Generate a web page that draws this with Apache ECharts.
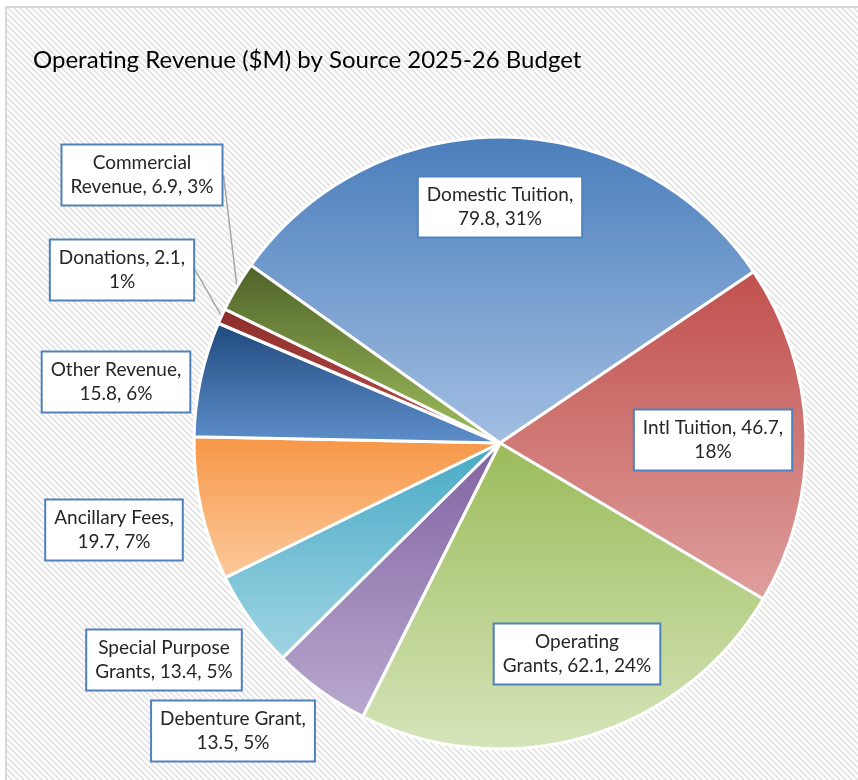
<!DOCTYPE html>
<html>
<head>
<meta charset="utf-8">
<script src="https://cdn.jsdelivr.net/npm/echarts@6/dist/echarts.min.js"></script>
<style>
  html, body { margin: 0; padding: 0; background: #ffffff; }
  #chart { width: 858px; height: 780px; }
</style>
</head>
<body>
<div id="chart"></div>
<script>
// Revenue sources, clockwise from the top of the pie
const sources = [
  'Domestic Tuition', 'Intl Tuition', 'Operating Grants', 'Debenture Grant',
  'Special Purpose Grants', 'Ancillary Fees', 'Other Revenue', 'Donations',
  'Commercial Revenue'
];
const revenue = [79.8, 46.7, 62.1, 13.5, 13.4, 19.7, 15.8, 2.1, 6.9];

// Where each label wraps onto its second line
const wrapAfter = ['comma1', 'comma2', 'Operating', 'comma1', 'Special Purpose', 'comma1', 'comma1', 'comma2', 'Commercial'];

// Slice gradients: darker top, lighter bottom
const sliceTop = ['#4a7ebb', '#c0504d', '#9bbb59', '#7f62a1', '#48a9c5', '#f79646', '#1f497d', '#8b2d2b', '#4f6228'];
const sliceBottom = ['#a3bfe2', '#df9f9d', '#d6e5bb', '#b9a9ce', '#a0d5e4', '#fcca9c', '#5f8fcb', '#c0504d', '#9fbf5c'];

// Label box centres, as offsets from the pie centre
const labelOffset = [
  [0, -236], [213, -3], [77, 211], [-267, 288], [-336, 217],
  [-386, 87], [-384, -61], [-378, -173], [-358, -268]
];
const labelInside = [true, true, true, false, false, false, false, false, false];
const showLeader = [false, false, false, false, false, false, false, true, true];

const CX = 500, CY = 443, R = 306;

// Diagonal hatch used for the chart background
function hatch() {
  const c = document.createElement('canvas');
  c.width = 6; c.height = 6;
  const g = c.getContext('2d');
  g.fillStyle = '#ffffff';
  g.fillRect(0, 0, 6, 6);
  g.strokeStyle = '#e2e2e2';
  g.lineWidth = 1.6;
  g.beginPath();
  g.moveTo(-1, -1); g.lineTo(7, 7);
  g.moveTo(-4, 2); g.lineTo(4, 10);
  g.moveTo(2, -4); g.lineTo(10, 4);
  g.stroke();
  return c;
}

function wrapLabel(i, text) {
  const w = wrapAfter[i];
  let pos;
  if (w === 'comma1') pos = text.indexOf(',') + 1;
  else if (w === 'comma2') pos = text.indexOf(',', text.indexOf(',') + 1) + 1;
  else pos = w.length;
  return text.slice(0, pos) + '\n' + text.slice(pos).trim();
}

const chart = echarts.init(document.getElementById('chart'), null, { renderer: 'canvas' });

const data = sources.map((name, i) => ({
  name: name,
  value: revenue[i],
  itemStyle: {
    color: {
      type: 'linear', x: 0, y: 0, x2: 0, y2: 1,
      colorStops: [
        { offset: 0, color: sliceTop[i] },
        { offset: 1, color: sliceBottom[i] }
      ]
    }
  },
  label: { position: labelInside[i] ? 'inside' : 'outside' },
  labelLine: { show: showLeader[i] }
}));

chart.setOption({
  animation: false,
  graphic: [
    {
      type: 'rect',
      z: -10,
      shape: { x: 6, y: 7, width: 860, height: 780 },
      style: { fill: { image: hatch(), repeat: 'repeat' }, stroke: '#d9d9d9', lineWidth: 2 }
    }
  ],
  title: {
    text: 'Operating Revenue ($M) by Source 2025-26 Budget',
    left: 28, top: 43,
    textStyle: { fontFamily: 'Lato', fontSize: 24, fontWeight: 'normal', color: '#000000' }
  },
  series: [{
    type: 'pie',
    center: [CX, CY],
    radius: R,
    startAngle: 144.5,
    clockwise: true,
    percentPrecision: 0,
    data: data,
    itemStyle: { borderColor: '#ffffff', borderWidth: 3 },
    label: {
      show: true,
      formatter: p => wrapLabel(p.dataIndex, p.name + ', ' + p.value + ', ' + p.percent + '%'),
      fontFamily: 'Lato',
      fontSize: 19,
      lineHeight: 24,
      color: '#262626',
      align: 'center',
      overflow: 'none',
      backgroundColor: '#ffffff',
      borderColor: '#4f81bd',
      borderWidth: 2,
      padding: [6, 8, 5, 8]
    },
    labelLine: {
      show: true,
      length: 0, length2: 0,
      lineStyle: { color: '#a6a6a6', width: 1.5 }
    },
    labelLayout: p => ({
      x: CX + labelOffset[p.dataIndex][0],
      y: CY + labelOffset[p.dataIndex][1],
      align: 'center',
      verticalAlign: 'middle'
    })
  }]
});
</script>
</body>
</html>
